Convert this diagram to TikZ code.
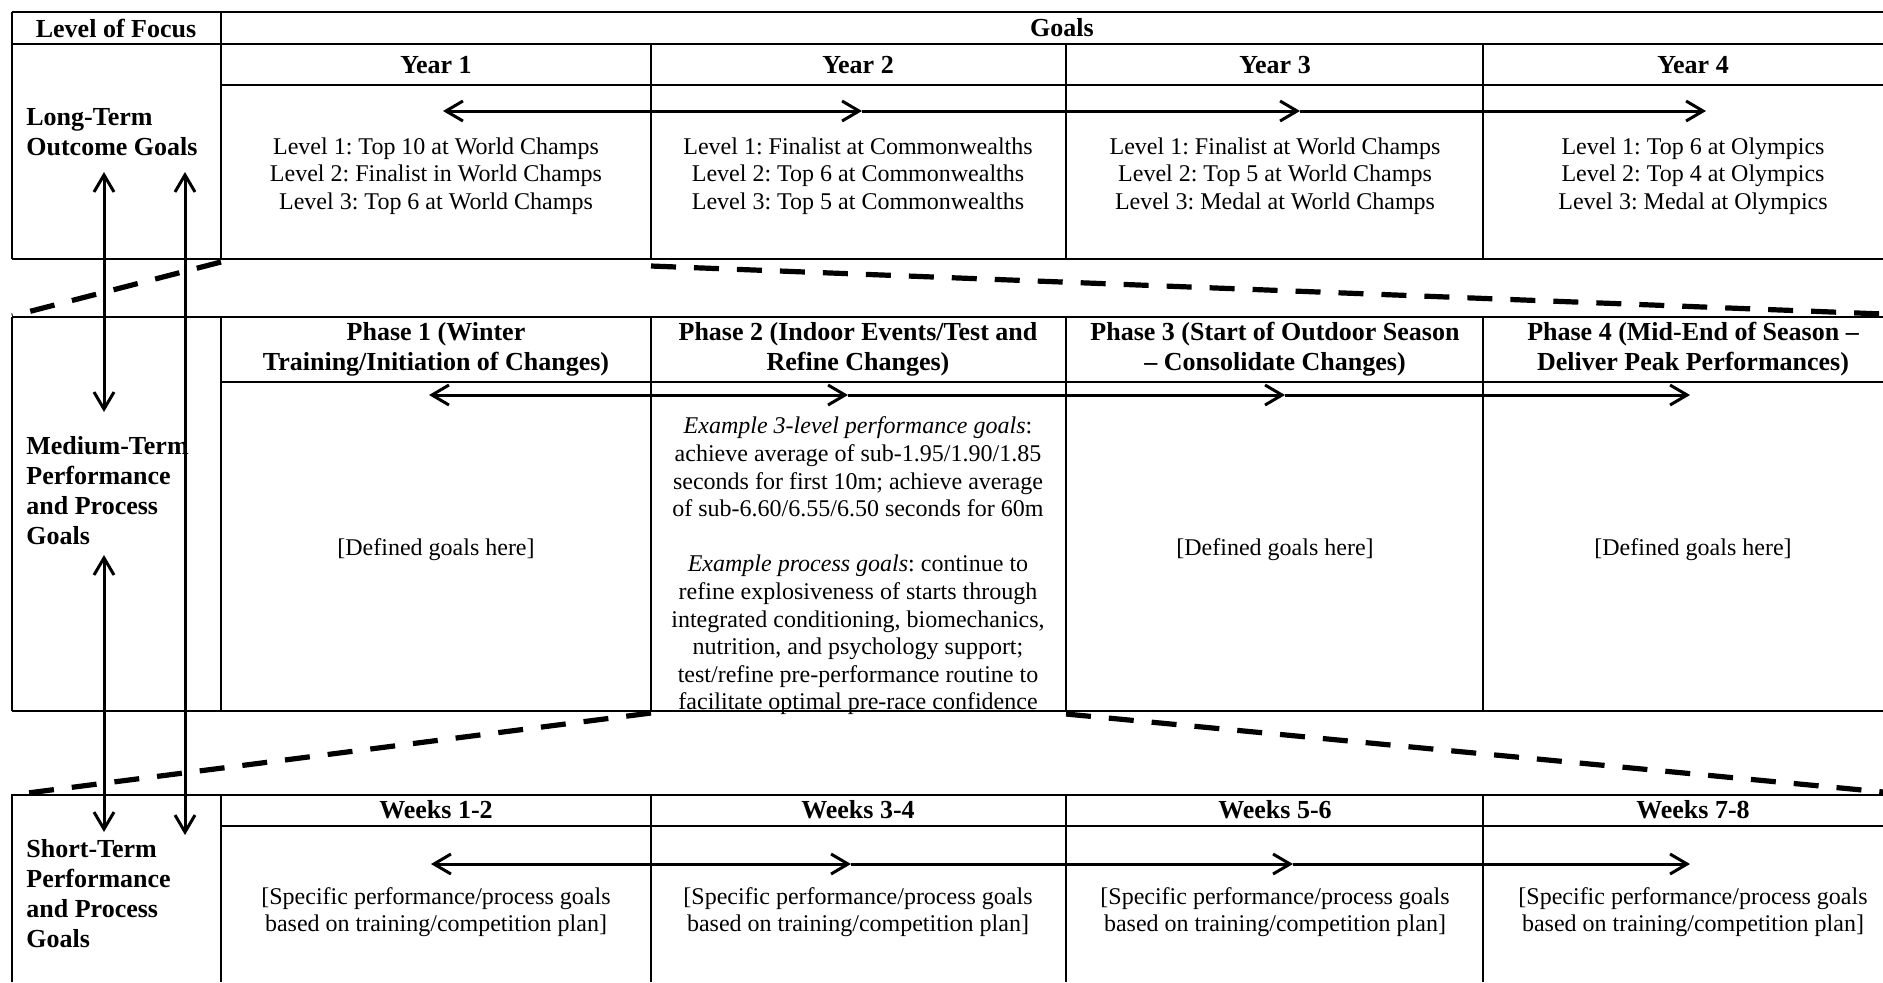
\documentclass[tikz,border=0pt]{standalone}
\usepackage{fontspec}
\setmainfont{Liberation Serif}
\usetikzlibrary{arrows.meta,positioning}
\frenchspacing

\begin{document}
\begin{tikzpicture}[x=0.5pt,y=-0.5pt,>={Straight Barb[length=8.5pt,width=10pt]},
    grid/.style={line width=1pt},
    zoomline/.style={line width=2.6pt,dash pattern=on 12.5pt off 9pt},
    link/.style={line width=1.5pt},
    hd/.style={font=\fontsize{13}{15}\selectfont\bfseries,align=center,inner sep=0pt},
    lvl/.style={font=\fontsize{13}{15}\selectfont\bfseries,align=left,anchor=west,inner sep=0pt},
    txt/.style={font=\fontsize{12}{13.8}\selectfont,align=center,inner sep=0pt}]
    \useasboundingbox (0,0) rectangle (1883,982);

    % table lines
    \draw[grid] (12,12) -- (1883,12) (12,44) -- (1883,44) (221,85) -- (1883,85) (12,259) -- (1883,259)
      (12,12) -- (12,259) (221,12) -- (221,259) (651,44) -- (651,259) (1066,44) -- (1066,259) (1483,44) -- (1483,259);
    \draw[grid] (12,317) -- (1883,317) (221,382) -- (1883,382) (12,711) -- (1883,711)
      (12,317) -- (12,711) (221,317) -- (221,711) (651,317) -- (651,711) (1066,317) -- (1066,711) (1483,317) -- (1483,711);
    \draw[grid] (12,982) -- (12,795) -- (1883,795) (221,826) -- (1883,826)
      (221,795) -- (221,982) (651,795) -- (651,982) (1066,795) -- (1066,982) (1483,795) -- (1483,982);

    % long-term
    \node[hd]  (focus)  at (116,28)   {Level of Focus};
    \node[hd]  (goals)  at (1062,28)  {Goals};
    \node[hd]  (y1)     at (436,65)   {Year 1};
    \node[hd]  (y2)     at (858,65)   {Year 2};
    \node[hd]  (y3)     at (1275,65)  {Year 3};
    \node[hd]  (y4)     at (1693,65)  {Year 4};
    \node[lvl] (long)   at (26,132)   {Long-Term\\Outcome Goals};
    \node[txt] (g1)     at (436,176)  {Level 1: Top 10 at World Champs\\Level 2: Finalist in World Champs\\Level 3: Top 6 at World Champs};
    \node[txt] (g2)     at (858,176)  {Level 1: Finalist at Commonwealths\\Level 2: Top 6 at Commonwealths\\Level 3: Top 5 at Commonwealths};
    \node[txt] (g3)     at (1275,176) {Level 1: Finalist at World Champs\\Level 2: Top 5 at World Champs\\Level 3: Medal at World Champs};
    \node[txt] (g4)     at (1693,176) {Level 1: Top 6 at Olympics\\Level 2: Top 4 at Olympics\\Level 3: Medal at Olympics};

    % medium-term
    \node[hd]  (p1)     at (436,349)  {Phase 1 (Winter\\Training/Initiation of Changes)};
    \node[hd]  (p2)     at (858,349)  {Phase 2 (Indoor Events/Test and\\Refine Changes)};
    \node[hd]  (p3)     at (1275,349) {Phase 3 (Start of Outdoor Season\\-- Consolidate Changes)};
    \node[hd]  (p4)     at (1693,349) {Phase 4 (Mid-End of Season --\\Deliver Peak Performances)};
    \node[lvl] (medium) at (26,491)   {Medium-Term\\Performance\\and Process\\Goals};
    \node[txt] (d1)     at (436,550)  {[Defined goals here]};
    \node[txt] (d2)     at (858,566)  {\textit{Example 3-level performance goals}:\\achieve average of sub-1.95/1.90/1.85\\seconds for first 10m; achieve average\\of sub-6.60/6.55/6.50 seconds for 60m\\[13.8pt]
      \textit{Example process goals}: continue to\\refine explosiveness of starts through\\integrated conditioning, biomechanics,\\nutrition, and psychology support;\\test/refine pre-performance routine to\\facilitate optimal pre-race confidence};
    \node[txt] (d3)     at (1275,550) {[Defined goals here]};
    \node[txt] (d4)     at (1693,550) {[Defined goals here]};

    % short-term
    \node[hd]  (w1)     at (436,810)  {Weeks 1-2};
    \node[hd]  (w2)     at (858,810)  {Weeks 3-4};
    \node[hd]  (w3)     at (1275,810) {Weeks 5-6};
    \node[hd]  (w4)     at (1693,810) {Weeks 7-8};
    \node[lvl] (short)  at (26,894)   {Short-Term\\Performance\\and Process\\Goals};
    \node[txt] (s1)     at (436,912)  {[Specific performance/process goals\\based on training/competition plan]};
    \node[txt] (s2)     at (858,912)  {[Specific performance/process goals\\based on training/competition plan]};
    \node[txt] (s3)     at (1275,912) {[Specific performance/process goals\\based on training/competition plan]};
    \node[txt] (s4)     at (1693,912) {[Specific performance/process goals\\based on training/competition plan]};

    % zoom lines between the levels
    \coordinate (ya) at (221,262);  \coordinate (ma) at (12,316);
    \coordinate (yb) at (651,266);  \coordinate (mb) at (1883,314);
    \coordinate (pa) at (651,713);  \coordinate (sa) at (12,795);
    \coordinate (pb) at (1066,714); \coordinate (sb) at (1883,792);
    \draw[zoomline] (ya) -- (ma) (yb) -- (mb) (pa) -- (sa) (pb) -- (sb);

    % time lines
    \coordinate (ta1) at (443,111); \coordinate (ta2) at (862,111); \coordinate (ta3) at (1300,111); \coordinate (ta4) at (1706,111);
    \coordinate (tb1) at (429,395); \coordinate (tb2) at (848,395); \coordinate (tb3) at (1285,395); \coordinate (tb4) at (1690,395);
    \coordinate (tc1) at (431,864); \coordinate (tc2) at (851,864); \coordinate (tc3) at (1293,864); \coordinate (tc4) at (1690,864);
    \draw[link,<->] (ta1) -- (ta2); \draw[link,->] (ta2) -- (ta3); \draw[link,->] (ta3) -- (ta4);
    \draw[link,<->] (tb1) -- (tb2); \draw[link,->] (tb2) -- (tb3); \draw[link,->] (tb3) -- (tb4);
    \draw[link,<->] (tc1) -- (tc2); \draw[link,->] (tc2) -- (tc3); \draw[link,->] (tc3) -- (tc4);

    % links between the levels
    \coordinate (la) at (104,172); \coordinate (lb) at (104,412);
    \coordinate (lc) at (104,555); \coordinate (ld) at (104,832);
    \coordinate (le) at (185,172); \coordinate (lf) at (185,835);
    \draw[link,<->] (la) -- (lb);
    \draw[link,<->] (lc) -- (ld);
    \draw[link,<->] (le) -- (lf);
\end{tikzpicture}
\end{document}
